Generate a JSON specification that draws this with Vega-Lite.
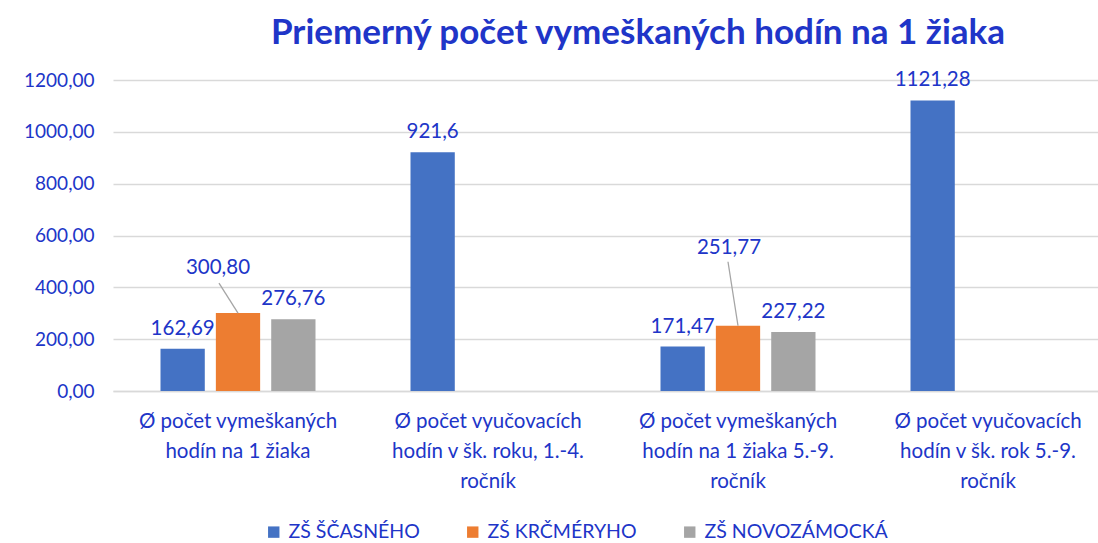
{
  "$schema": "https://vega.github.io/schema/vega-lite/v6.json",
  "width": 1000,
  "height": 311,
  "autosize": {"type": "pad"},
  "padding": {"left": 23, "top": 16, "right": 5, "bottom": 5},
  "config": {
    "locale": {"number": {"decimal": ",", "thousands": "", "grouping": [3], "currency": ["", ""]}},
    "view": {"stroke": null},
    "font": "Lato"
  },
  "title": {
    "text": "Priemerný počet vymeškaných hodín na 1 žiaka",
    "font": "Lato",
    "fontSize": 35,
    "fontWeight": "bold",
    "color": "#2035C8",
    "dx": 25,
    "offset": 19
  },
  "data": {
    "values": [
      {"kategoria": "Ø počet vymeškaných|hodín na 1 žiaka", "skola": "ZŠ ŠČASNÉHO", "hodnota": 162.69, "label": "162,69"},
      {"kategoria": "Ø počet vymeškaných|hodín na 1 žiaka", "skola": "ZŠ KRČMÉRYHO", "hodnota": 300.80, "label": "300,80"},
      {"kategoria": "Ø počet vymeškaných|hodín na 1 žiaka", "skola": "ZŠ NOVOZÁMOCKÁ", "hodnota": 276.76, "label": "276,76"},
      {"kategoria": "Ø počet vyučovacích|hodín v šk. roku, 1.-4.|ročník", "skola": "ZŠ ŠČASNÉHO", "hodnota": 921.6, "label": "921,6"},
      {"kategoria": "Ø počet vymeškaných|hodín na 1 žiaka 5.-9.|ročník", "skola": "ZŠ ŠČASNÉHO", "hodnota": 171.47, "label": "171,47"},
      {"kategoria": "Ø počet vymeškaných|hodín na 1 žiaka 5.-9.|ročník", "skola": "ZŠ KRČMÉRYHO", "hodnota": 251.77, "label": "251,77"},
      {"kategoria": "Ø počet vymeškaných|hodín na 1 žiaka 5.-9.|ročník", "skola": "ZŠ NOVOZÁMOCKÁ", "hodnota": 227.22, "label": "227,22"},
      {"kategoria": "Ø počet vyučovacích|hodín v šk. rok 5.-9.|ročník", "skola": "ZŠ ŠČASNÉHO", "hodnota": 1121.28, "label": "1121,28"}
    ]
  },
  "encoding": {
    "x": {
      "field": "kategoria",
      "type": "nominal",
      "sort": null,
      "scale": {"paddingInner": 0.38, "paddingOuter": 0.19},
      "axis": {
        "title": null,
        "labelAngle": 0,
        "labelFont": "Lato",
        "labelFontSize": 20.5,
        "labelColor": "#2035C8",
        "labelPadding": 20,
        "labelLineHeight": 30,
        "labelExpr": "split(datum.label, '|')",
        "labelLimit": 0,
        "ticks": false,
        "domainColor": "#D9D9D9",
        "domainWidth": 1.5
      }
    },
    "xOffset": {
      "field": "skola",
      "type": "nominal",
      "scale": {"domain": ["ZŠ ŠČASNÉHO", "ZŠ KRČMÉRYHO", "ZŠ NOVOZÁMOCKÁ"], "paddingInner": 0.2, "paddingOuter": 0}
    },
    "y": {
      "field": "hodnota",
      "type": "quantitative",
      "scale": {"domain": [0, 1200], "nice": false},
      "axis": {
        "title": null,
        "values": [0, 200, 400, 600, 800, 1000, 1200],
        "format": ".2f",
        "labelFont": "Lato",
        "labelFontSize": 19,
        "labelColor": "#2035C8",
        "labelPadding": 19,
        "domain": false,
        "ticks": false,
        "gridColor": "#D9D9D9",
        "gridWidth": 1.5
      }
    }
  },
  "layer": [
    {
      "mark": {"type": "bar"},
      "encoding": {
        "color": {
          "field": "skola",
          "type": "nominal",
          "scale": {"domain": ["ZŠ ŠČASNÉHO", "ZŠ KRČMÉRYHO", "ZŠ NOVOZÁMOCKÁ"], "range": ["#4472C4", "#ED7D31", "#A5A5A5"]},
          "legend": {
            "title": null,
            "orient": "none",
            "legendX": 151,
            "legendY": 442,
            "direction": "horizontal",
            "symbolType": "square",
            "symbolSize": 130,
            "symbolStrokeWidth": 0,
            "labelFont": "Lato",
            "labelFontSize": 19.5,
            "labelColor": "#2035C8",
            "labelOffset": 5,
            "labelLimit": 0,
            "columnPadding": 43
          }
        }
      }
    },
    {
      "transform": [{"filter": "datum.skola != 'ZŠ KRČMÉRYHO'"}],
      "mark": {"type": "text", "font": "Lato", "fontSize": 20.5, "color": "#2035C8", "dy": -14, "baseline": "alphabetic"},
      "encoding": {"text": {"field": "label"}}
    },
    {
      "transform": [{"filter": "datum.skola == 'ZŠ KRČMÉRYHO' && datum.label == '300,80'"}],
      "mark": {"type": "text", "font": "Lato", "fontSize": 20.5, "color": "#2035C8", "dx": -20, "dy": -39, "baseline": "alphabetic"},
      "encoding": {"text": {"field": "label"}}
    },
    {
      "transform": [{"filter": "datum.skola == 'ZŠ KRČMÉRYHO' && datum.label == '251,77'"}],
      "mark": {"type": "text", "font": "Lato", "fontSize": 20.5, "color": "#2035C8", "dx": -9, "dy": -72, "baseline": "alphabetic"},
      "encoding": {"text": {"field": "label"}}
    },
    {
      "transform": [{"filter": "datum.skola == 'ZŠ KRČMÉRYHO' && datum.label == '300,80'"}],
      "mark": {"type": "rule", "color": "#A5A5A5", "strokeWidth": 1.3, "y2Offset": -30, "x2Offset": -19},
      "encoding": {"x2": {"field": "kategoria"}, "y2": {"field": "hodnota"}}
    },
    {
      "transform": [{"filter": "datum.skola == 'ZŠ KRČMÉRYHO' && datum.label == '251,77'"}],
      "mark": {"type": "rule", "color": "#A5A5A5", "strokeWidth": 1.3, "y2Offset": -64, "x2Offset": -10},
      "encoding": {"x2": {"field": "kategoria"}, "y2": {"field": "hodnota"}}
    }
  ]
}
